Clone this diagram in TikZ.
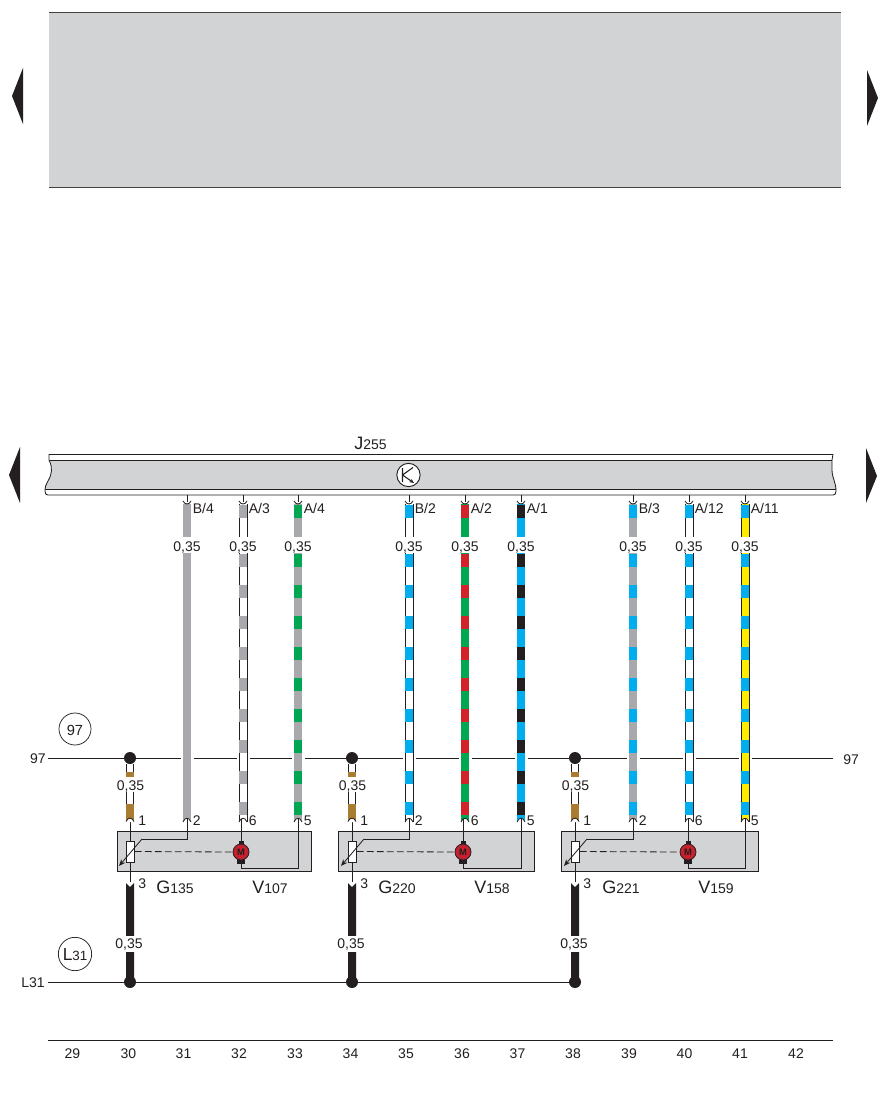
\documentclass[tikz,border=0pt]{standalone}
\usepackage{fontspec}
\setmainfont{Liberation Sans}
\usetikzlibrary{arrows.meta}
\definecolor{panelgray}{HTML}{D1D3D4}
\definecolor{ink}{HTML}{231F20}
\definecolor{wgray}{HTML}{A7A9AC}
\definecolor{wgreen}{HTML}{00A651}
\definecolor{wcyan}{HTML}{00AEEF}
\definecolor{wred}{HTML}{D2232A}
\definecolor{wyellow}{HTML}{FFED00}
\definecolor{wbrown}{HTML}{A97C32}
\definecolor{mred}{HTML}{C4202E}
\tikzset{
  thin line/.style={draw=ink,line width=0.62pt},
  edge line/.style={draw=ink,line width=0.5pt},
  txt/.style={font=\fontsize{10.5}{12}\selectfont,inner sep=0pt,text=ink},
  pinlabel/.style={txt,anchor=base west},
  sizelabel/.style={txt,anchor=base},
  devbox/.style={draw=ink,line width=0.62pt,fill=panelgray,rectangle,inner sep=0pt},
  junction/.style={circle,fill=ink,inner sep=0pt,minimum size=9pt},
  tag/.style={circle,draw=ink,line width=0.55pt,inner sep=0pt,fill=white},
  markerarrow/.style={fill=ink,draw=none},
}
\newcommand{\bigsmall}[2]{{\fontsize{13.5}{15}\selectfont #1}{\fontsize{10.5}{12}\selectfont #2}}
% x, name, base colour, stripe colour, outlined(1/0), top pin text, bottom pin text
\newcommand{\wirerun}[7]{%
  \fill[white] (#1-6.5,745) rectangle (#1+6.5,771);
  \coordinate (#2bar) at (#1,495);
  \coordinate (#2tip) at (#1,502);
  \coordinate (#2end) at (#1,819);
  \fill[#3] (#1-4,504) rectangle (#1+4,537);
  \fill[#3] (#1-4,553) rectangle (#1+4,822);
  \ifnum#5=1
    \draw[edge line] (#1-4,504) -- (#1-4,537) (#1+4,504) -- (#1+4,537)
      (#1-4,553) -- (#1-4,822) (#1+4,553) -- (#1+4,822);
  \fi
  \fill[#4] (#1-4,505) rectangle (#1+4,518);
  \foreach \k in {0,...,8} {
    \fill[#4] (#1-4,{554+31*\k}) rectangle (#1+4,{567+31*\k});
  }
  \fill[white] (#1-4,501) .. controls (#1-2,505) and (#1+2,505) .. (#1+4,501) -- cycle;
  \draw[thin line] (#2bar) -- (#2tip);
  \draw[thin line] (#1-4,501) .. controls (#1-2,505) and (#1+2,505) .. (#1+4,501);
  \fill[white] (#1-4,823) -- (#1-4,822) .. controls (#1-2,817) and (#1+2,817) .. (#1+4,822) -- (#1+4,823) -- cycle;
  \draw[thin line] (#1-4,822) .. controls (#1-2,817) and (#1+2,817) .. (#1+4,822);
  \node[sizelabel] (#2size) at (#1,551) {0,35};
  \node[pinlabel] (#2pin) at (#1+5.5,513) {#6};
  \node[pinlabel] (#2low) at (#1+5.5,825) {#7};
}
% name, x res, wire 2, wire 6, wire 5, x motor, box left, box right
\newcommand{\device}[8]{%
  \node[devbox,anchor=north west,minimum width={(#8-#7)*0.75pt},minimum height=30pt] (#1box) at (#7,831) {};
  \node[rectangle,draw=ink,line width=0.62pt,fill=white,minimum width=6pt,minimum height=15.7pt,inner sep=0pt] (#1r) at (#2+0.5,851.5) {};
  \coordinate (#1top) at (#2+0.5,819);
  \coordinate (#1bot) at (#2+0.5,882);
  \draw[thin line] (#1top) -- (#1r.north);
  \draw[thin line] (#1r.south) -- (#1bot);
  \coordinate (#1y) at (0,839);
  \coordinate (#1z) at (0,868);
  \coordinate (#1a) at (#3end |- #1y);
  \coordinate (#1b) at (#2+12,839);
  \coordinate (#1c) at (#2-11,866);
  \draw[thin line] (#3end) -- (#1a) -- (#1b);
  \draw[thin line,-{Stealth[length=5pt,width=4pt]}] (#1b) -- (#1c);
  \fill[ink] (#6-4,859) rectangle (#6+4,864);
  \fill[ink] (#6-2.5,841) rectangle (#6+2.5,846);
  \node[circle,draw=ink,line width=0.6pt,fill=mred,minimum size=12pt,inner sep=0pt,font=\fontsize{7}{8}\selectfont\bfseries,text=ink] (#1m) at (#6,852) {M};
  \draw[thin line,dash pattern=on 5pt off 2.5pt] (#1r.east) -- (#1m.west);
  \coordinate (#1n) at (#6,819);
  \draw[thin line] (#1n) -- (#1m.north);
  \coordinate (#1d) at (#6,868);
  \coordinate (#1e) at (#5end |- #1z);
  \draw[thin line] (#6,864) -- (#1d) -- (#1e) -- (#5end);
  \node[junction] (#1dot) at (#2,758) {};
  \node[junction] (#1gnd) at (#2,982) {};
}
\newcommand{\feedwires}[2]{%
  \fill[white] (#2-3.8,764) rectangle (#2+3.8,820);
  \draw[edge line] (#2-3.8,764) -- (#2-3.8,777) (#2+3.8,764) -- (#2+3.8,777)
     (#2-3.8,792) -- (#2-3.8,820) (#2+3.8,792) -- (#2+3.8,820);
  \fill[wbrown] (#2-3.8,772) rectangle (#2+3.8,777);
  \fill[wbrown] (#2-3.8,804) rectangle (#2+3.8,821);
  \fill[white] (#2-4,822) -- (#2-4,821.5) .. controls (#2-2,817) and (#2+2,817) .. (#2+4,821.5) -- (#2+4,822) -- cycle;
  \draw[thin line] (#2-4,821.5) .. controls (#2-2,817) and (#2+2,817) .. (#2+4,821.5);
  \node[sizelabel] (#1brsize) at (#2+0.5,790) {0,35};
  \node[pinlabel] (#1p1) at (#2+8,825) {1};
  \fill[ink] (#2-4,887) -- (#2-4,883) -- (#2,887) -- (#2+4,883) -- (#2+4,982) -- (#2-4,982) -- cycle;
  \node[sizelabel,fill=white,inner xsep=1pt,inner ysep=2pt] (#1blsize) at (#2-1,948) {0,35};
  \node[pinlabel] (#1p3) at (#2+8,888) {3};
}
\begin{document}
\begin{tikzpicture}[x=0.75pt,y=-0.75pt]
\useasboundingbox (0,0) rectangle (884,1102);
\fill[white] (0,0) rectangle (884,1102);
% upper panel
\fill[panelgray] (49,12) rectangle (841,187);
\draw[thin line,draw=ink!85] (49,12) -- (841,12) (49,187) -- (841,187);
% page markers
\fill[markerarrow] (12,96) -- (23,68) -- (23,124) -- cycle;
\fill[markerarrow] (878,98) -- (867,70) -- (867,126) -- cycle;
\fill[markerarrow] (9,475) -- (20,447) -- (20,503) -- cycle;
\fill[markerarrow] (877,476) -- (866,448) -- (866,503) -- cycle;
% control unit bar
\fill[panelgray] (49,460) .. controls (53,468) and (52,474) .. (48,481) .. controls (46,484) and (45,487) .. (45,489)
  -- (836,489) .. controls (836,482) and (832,478) .. (832,470) -- (832,460) -- cycle;
\draw[thin line] (49,454) -- (833,454) (49,460) -- (832,460) (45,489) -- (836,489);
\draw[thin line] (49,454) -- (49,460) .. controls (53,468) and (52,474) .. (48,481) .. controls (46,484) and (45,487) .. (45,491) .. controls (45,494) and (46,495) .. (48,495) -- (833,495)
  .. controls (835,495) and (836,494) .. (836,491) .. controls (836,482) and (832,478) .. (832,470) -- (832,460) -- (833,454);
\node[tag,fill=white,line width=0.7pt,minimum size=17.5pt] (kc) at (408.5,475) {};
\coordinate (ka) at (402.5,468);
\coordinate (kb) at (402.5,482);
\coordinate (kj) at (402.5,475);
\coordinate (kt) at (413,467.5);
\coordinate (kd) at (414,483);
\draw[thin line,line width=0.8pt] (ka) -- (kb) (kj) -- (kt);
\draw[thin line,line width=0.8pt,-{Stealth[length=3.5pt,width=3pt]}] (kj) -- (kd);
\node[anchor=base west,inner sep=0pt,text=ink] (j255) at (354,449) {\bigsmall{J}{255}};
% supply and ground rails
\coordinate (r97a) at (48,758);
\coordinate (r97b) at (833,758);
\coordinate (rLa) at (48,982);
\coordinate (rLb) at (575,982);
\coordinate (rGa) at (48,1040);
\coordinate (rGb) at (833,1040);
\draw[thin line] (r97a) -- (r97b);
\draw[thin line] (rLa) -- (rLb);
\draw[thin line] (rGa) -- (rGb);
\node[txt,anchor=base east] (l97a) at (46,763) {97};
\node[txt,anchor=base west] (l97b) at (843,764) {97};
\node[txt,anchor=base east] (lL31) at (45,987) {L31};
\node[tag,minimum size=24pt] (t97) at (75,729) {};
\node[txt,font=\fontsize{11}{12}\selectfont] (t97t) at (75,730) {97};
\node[tag,minimum size=25pt] (tL31) at (75,954) {};
\node[inner sep=0pt,text=ink] (tL31t) at (75,955) {{\fontsize{13}{14}\selectfont L}{\fontsize{10}{11}\selectfont 31}};
% wires
\wirerun{187}{wa}{wgray}{wgray}{0}{B/4}{2}
\wirerun{243}{wb}{white}{wgray}{1}{A/3}{6}
\wirerun{298}{wc}{wgray}{wgreen}{0}{A/4}{5}
\wirerun{409}{wd}{white}{wcyan}{1}{B/2}{2}
\wirerun{465}{we}{wgreen}{wred}{0}{A/2}{6}
\wirerun{521}{wf}{wcyan}{ink}{0}{A/1}{5}
\wirerun{633}{wg}{wgray}{wcyan}{0}{B/3}{2}
\wirerun{689}{wh}{white}{wcyan}{1}{A/12}{6}
\wirerun{745}{wi}{wyellow}{wcyan}{1}{A/11}{5}
% devices
\device{da}{130}{wa}{wb}{wc}{241}{117}{311}
\device{db}{352}{wd}{we}{wf}{463}{338}{534}
\device{dc}{575}{wg}{wh}{wi}{688}{561}{758}
\feedwires{da}{130}
\feedwires{db}{352}
\feedwires{dc}{575}
% device labels
\node[anchor=base west,inner sep=0pt,text=ink] (ga) at (156,893) {\bigsmall{G}{135}};
\node[anchor=base west,inner sep=0pt,text=ink] (va) at (252,893) {\bigsmall{V}{107}};
\node[anchor=base west,inner sep=0pt,text=ink] (gb) at (378,893) {\bigsmall{G}{220}};
\node[anchor=base west,inner sep=0pt,text=ink] (vb) at (474,893) {\bigsmall{V}{158}};
\node[anchor=base west,inner sep=0pt,text=ink] (gc) at (602,893) {\bigsmall{G}{221}};
\node[anchor=base west,inner sep=0pt,text=ink] (vc) at (698,893) {\bigsmall{V}{159}};
% ruler numbers
\foreach \n/\x in {29/72.5,30/128.5,31/183.5,32/239,33/295,34/350.5,35/406,36/462,37/517.5,38/573,39/629,40/684.5,41/740,42/796} {
  \node[txt,anchor=base] (c\n) at (\x,1058) {\n};
}
\end{tikzpicture}
\end{document}
